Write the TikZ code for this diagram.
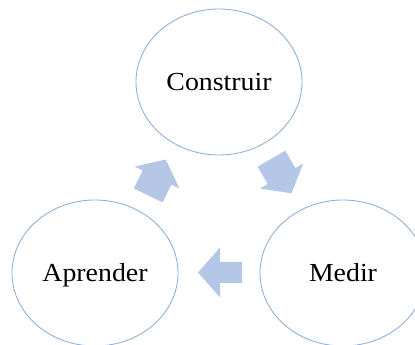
\documentclass[tikz,border=0pt]{standalone}
\usepackage{fontspec}
\setmainfont{Liberation Serif}
\newfontfamily\labfont[FakeStretch=1.07]{Liberation Serif}
\usetikzlibrary{shapes.geometric,calc}
\definecolor{ringblue}{HTML}{8AAEDB}
\definecolor{arrowblue}{HTML}{B4C7E7}
\tikzset{
  stage/.style={ellipse, draw=ringblue, line width=0.85pt, minimum width=166pt,
    minimum height=146pt, inner sep=0pt, text height=17pt, text depth=0pt,
    font=\labfont\fontsize{26}{30}\selectfont},
  flatarrow/.pic={
    \fill[arrowblue] (22pt,0) -- (0,25pt) -- (0,10.5pt) -- (-22pt,10.5pt)
      -- (-22pt,-10.5pt) -- (0,-10.5pt) -- (0,-25pt) -- cycle;
  },
  diagarrow/.pic={
    \fill[arrowblue] (20pt,0) -- (0,25pt) -- (0,16pt) -- (-20pt,16pt)
      -- (-20pt,-16pt) -- (0,-16pt) -- (0,-25pt) -- cycle;
  }
}
\begin{document}
\begin{tikzpicture}[x=1pt,y=1pt]
\useasboundingbox (0,0) rectangle (415,345);
\clip (0,0) rectangle (415,345);
\node[stage] (C) at (219,263) {Construir};
\node[stage] (A) at (95,72) {Aprender};
\node[stage] (M) at (343,72) {Medir};
\coordinate (cm) at ($(C.center)!0.5!(M.center)+(0.5,1.5)$);
\coordinate (ma) at ($(M.center)!0.5!(A.center)+(1,0.5)$);
\coordinate (ac) at ($(A.center)!0.5!(C.center)$);
\pic[rotate=-60] at (cm) {diagarrow};
\pic[rotate=180] at (ma) {flatarrow};
\pic[rotate=64] at (ac) {diagarrow};
\end{tikzpicture}
\end{document}
